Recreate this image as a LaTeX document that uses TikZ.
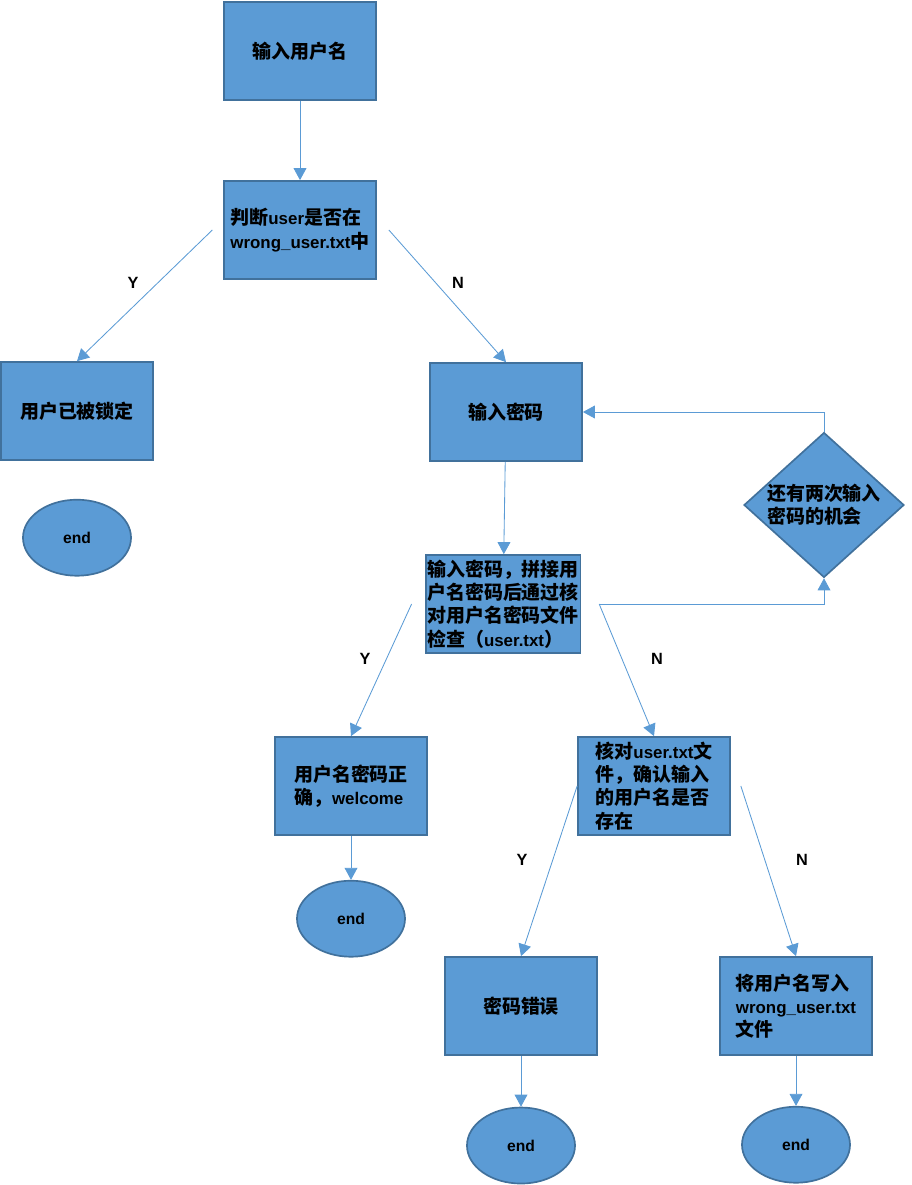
\documentclass[tikz,border=0pt]{standalone}
\usepackage{fontspec}
\setmainfont{Noto Sans CJK SC}
\newfontfamily\enfont{Liberation Sans}[Scale=0.89, UprightFont=*-Bold, BoldFont=*-Bold]
\usetikzlibrary{positioning, arrows.meta, shapes.geometric}
\definecolor{boxfill}{HTML}{5B9BD5}
\definecolor{boxline}{HTML}{41719C}
\definecolor{flowline}{HTML}{5B9BD5}

\begin{document}
\begin{tikzpicture}[
    x=0.025cm, y=-0.025cm,
    node distance=1cm,
    box/.style={rectangle, draw=boxline, fill=boxfill, line width=1.2pt, minimum width=3.8cm, minimum height=2.45cm, inner sep=1pt, align=left, font=\fontsize{13.5}{16.5}\selectfont\bfseries},
    choice/.style={diamond, draw=boxline, fill=boxfill, line width=1.2pt, minimum width=4cm, minimum height=3.6cm, aspect=1.1, inner sep=0pt, align=left, font=\fontsize{13.5}{16.5}\selectfont\bfseries},
    term/.style={ellipse, draw=boxline, fill=boxfill, line width=1.2pt, minimum width=2.7cm, minimum height=1.9cm, font=\enfont\fontsize{12.5}{15}\selectfont\bfseries},
    flow/.style={-{Triangle[width=0.32cm, length=0.3cm]}, draw=flowline, line width=0.6pt},
    yn/.style={font=\enfont\fontsize{13}{15}\selectfont\bfseries}
]
    \useasboundingbox (0,0) rectangle (912,1185);

    \node[box] (user) at (300,51) {输入用户名};
    \node[box] (check) at (300,230) {判断{\enfont user}是否在\\{\enfont wrong\_user.txt}中};
    \node[box] (locked) at (77,411) {用户已被锁定};
    \node[term] (end1) [below=0.95cm of locked] {end};
    \node[box] (pwd) at (506,412) {输入密码};
    \node[box] (verify) at (503,604) {输入密码，拼接用\\户名密码后通过核\\对用户名密码文件\\检查（{\enfont user.txt}）};
    \node[choice] (retry) at (824,505) {还有两次输入\\密码的机会};
    \node[box] (ok) at (351,786) {用户名密码正\\确，{\enfont welcome}};
    \node[term] (end2) [below=1.1cm of ok] {end};
    \node[box] (exist) at (654,786) {核对{\enfont user.txt}文\\件，确认输入\\的用户名是否\\存在};
    \node[box] (wrong) at (521,1006) {密码错误};
    \node[term] (end3) [below=1.27cm of wrong] {end};
    \node[box] (lock) at (796,1006) {将用户名写入\\{\enfont wrong\_user.txt}\\文件};
    \node[term] (end4) [below=1.25cm of lock] {end};

    \coordinate[left=0.27cm of check.west] (cy);
    \coordinate[right=0.3cm of check.east] (cn);
    \coordinate[left=0.33cm of verify.west] (vy);
    \coordinate[right=0.45cm of verify.east] (vn);
    \coordinate[right=0.25cm of exist.east] (en);

    \draw[flow] (user) -- (check);
    \draw[flow] (cy) -- (locked.north);
    \draw[flow] (cn) -- (pwd.north);
    \draw[flow] (pwd) -- (verify);
    \draw[flow] (vy) -- (ok.north);
    \draw[flow] (vn) -- (exist.north);
    \draw[flow] (vn) -| (retry.south);
    \draw[flow] (retry.north) |- (pwd.east);
    \draw[flow] (ok) -- (end2);
    \draw[flow] (exist.west) -- (wrong.north);
    \draw[flow] (en) -- (lock.north);
    \draw[flow] (wrong) -- (end3);
    \draw[flow] (lock) -- (end4);

    \node[yn] (y1) at (133,283) {Y};
    \node[yn] (n1) at (458,283) {N};
    \node[yn] (y2) at (365,659) {Y};
    \node[yn] (n2) at (657,659) {N};
    \node[yn] (y3) at (522,860) {Y};
    \node[yn] (n3) at (802,860) {N};
\end{tikzpicture}
\end{document}
